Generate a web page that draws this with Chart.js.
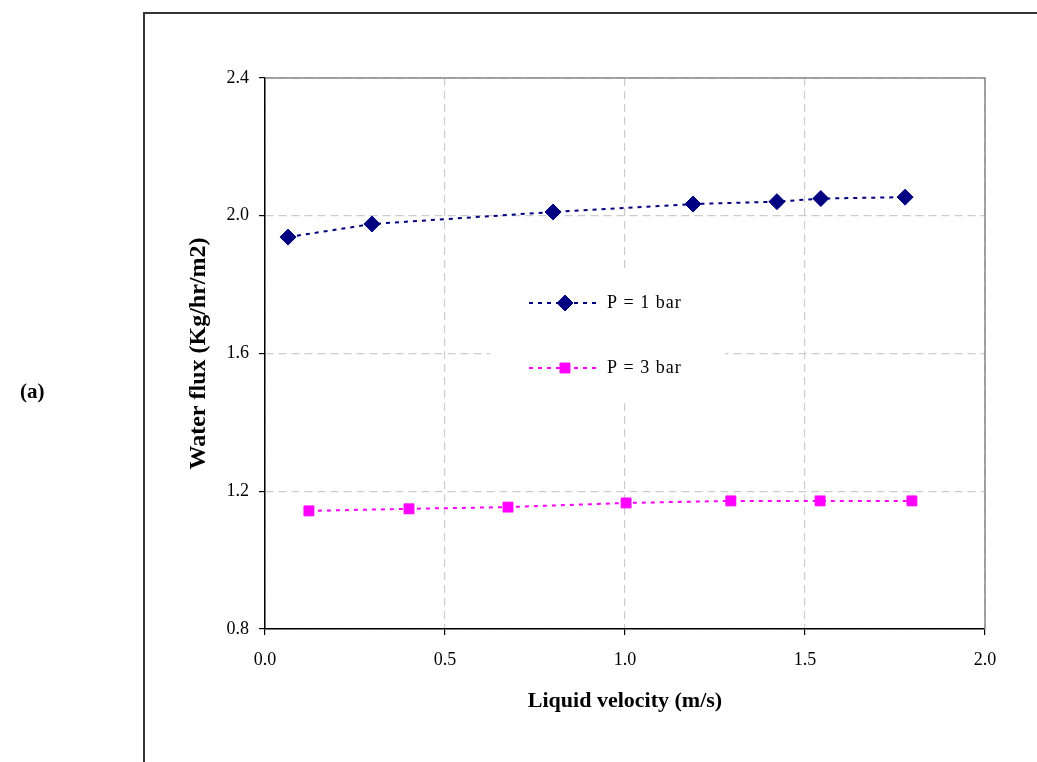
<!DOCTYPE html>
<html>
<head>
<meta charset="utf-8">
<script src="https://cdn.jsdelivr.net/npm/chart.js@4/dist/chart.umd.min.js"></script>
<style>
  html, body { margin: 0; padding: 0; background: #fff; }
  #wrap { width: 1037px; height: 762px; position: relative; }
</style>
</head>
<body>
<div id="wrap"><canvas id="chartCanvas" width="1037" height="762"></canvas></div>
<script>
// values
const velocity1 = [0.064, 0.297, 0.80, 1.189, 1.422, 1.544, 1.778];
const flux1 = [1.938, 1.976, 2.011, 2.034, 2.041, 2.050, 2.054];
const velocity3 = [0.122, 0.40, 0.675, 1.003, 1.294, 1.542, 1.797];
const flux3 = [1.143, 1.149, 1.154, 1.166, 1.172, 1.172, 1.172];
const seriesLabels = ["P = 1 bar", "P = 3 bar"];
const xTicks = [0, 0.5, 1.0, 1.5, 2.0];
const yTicks = [0.8, 1.2, 1.6, 2.0, 2.4];

const serif = "'Liberation Serif', 'Times New Roman', serif";

const toPoints = (xs, ys) => xs.map((x, i) => ({ x: x, y: ys[i] }));

// outer frame, plot border, legend box and the "(a)" label
const extras = {
    id: "extras",
    beforeDraw(chart) {
        const ctx = chart.ctx;
        ctx.save();
        ctx.strokeStyle = "#333";
        ctx.lineWidth = 2;
        ctx.beginPath();
        ctx.moveTo(144, 800);
        ctx.lineTo(144, 13);
        ctx.lineTo(1100, 13);
        ctx.stroke();

        ctx.fillStyle = "#000";
        ctx.font = "bold 21px " + serif;
        ctx.textBaseline = "middle";
        ctx.fillText("(a)", 20, 393);
        ctx.restore();
    },
    afterDatasetsDraw(chart) {
        const ctx = chart.ctx;
        const a = chart.chartArea;
        ctx.save();
        // top and right border in gray
        ctx.strokeStyle = "#888";
        ctx.lineWidth = 1.5;
        ctx.beginPath();
        ctx.moveTo(a.left, a.top);
        ctx.lineTo(a.right, a.top);
        ctx.lineTo(a.right, a.bottom);
        ctx.stroke();

        // legend inside the plot
        ctx.fillStyle = "#fff";
        ctx.fillRect(490, 272, 235, 126);
        const rows = [303, 368];
        chart.data.datasets.forEach((ds, i) => {
            const y = rows[i];
            ctx.strokeStyle = ds.borderColor;
            ctx.lineWidth = 2;
            ctx.setLineDash(ds.borderDash);
            ctx.beginPath();
            ctx.moveTo(529, y);
            ctx.lineTo(598, y);
            ctx.stroke();
            ctx.setLineDash([]);
            ctx.fillStyle = ds.pointBackgroundColor;
            ctx.strokeStyle = ds.pointBorderColor;
            ctx.lineWidth = 1;
            Chart.helpers.drawPoint(ctx, {
                pointStyle: ds.pointStyle,
                radius: ds.pointRadius,
                borderWidth: 1
            }, 565, y);
            ctx.fillStyle = "#000";
            ctx.font = "18px " + serif;
            ctx.letterSpacing = "1px";
            ctx.textBaseline = "middle";
            ctx.fillText(ds.label, 607, y);
            ctx.letterSpacing = "0px";
        });
        ctx.restore();
    }
};

const gridOpts = {
    color: "#cccccc",
    tickColor: "#000",
    tickBorderDash: [],
    tickLength: 6,
    lineWidth: 1.2
};

const ctx = document.getElementById("chartCanvas").getContext("2d");
new Chart(ctx, {
    type: "scatter",
    data: {
        datasets: [
            {
                label: seriesLabels[0],
                data: toPoints(velocity1, flux1),
                showLine: true,
                borderColor: "#000080",
                borderWidth: 2,
                borderDash: [4, 5],
                pointStyle: "rectRot",
                pointRadius: 8,
                pointHoverRadius: 8,
                pointBackgroundColor: "#000080",
                pointBorderColor: "#000080",
                pointBorderWidth: 1
            },
            {
                label: seriesLabels[1],
                data: toPoints(velocity3, flux3),
                showLine: true,
                borderColor: "#ff00ff",
                borderWidth: 2,
                borderDash: [4, 5],
                pointStyle: "rect",
                pointRadius: 7,
                pointHoverRadius: 7,
                pointBackgroundColor: "#ff00ff",
                pointBorderColor: "#ff00ff",
                pointBorderWidth: 1
            }
        ]
    },
    options: {
        responsive: false,
        animation: false,
        layout: { padding: { left: 0, top: 78, right: 52, bottom: 43 } },
        plugins: {
            legend: { display: false },
            tooltip: { enabled: false }
        },
        scales: {
            x: {
                type: "linear",
                min: 0,
                max: 2,
                afterBuildTicks: (s) => { s.ticks = xTicks.map((v) => ({ value: v })); },
                afterFit: (s) => { s.height = 90; },
                grid: gridOpts,
                border: { color: "#000", width: 1.5, dash: [8, 5] },
                ticks: {
                    color: "#000",
                    font: { family: serif, size: 18 },
                    padding: 14,
                    callback: (v) => v.toFixed(1)
                },
                title: {
                    display: true,
                    text: "Liquid velocity (m/s)",
                    color: "#000",
                    font: { family: serif, size: 22, weight: "bold" },
                    padding: { top: 0, bottom: 4 }
                }
            },
            y: {
                type: "linear",
                min: 0.8,
                max: 2.4,
                afterBuildTicks: (s) => { s.ticks = yTicks.map((v) => ({ value: v })); },
                afterFit: (s) => { s.width = 265; },
                grid: gridOpts,
                border: { color: "#000", width: 1.5, dash: [8, 5] },
                ticks: {
                    color: "#000",
                    font: { family: serif, size: 18 },
                    padding: 10,
                    callback: (v) => v.toFixed(1)
                },
                title: {
                    display: true,
                    text: "Water flux (Kg/hr/m2)",
                    color: "#000",
                    font: { family: serif, size: 24, weight: "bold" },
                    padding: { top: 184, bottom: 0 }
                }
            }
        }
    },
    plugins: [extras]
});
</script>
</body>
</html>
